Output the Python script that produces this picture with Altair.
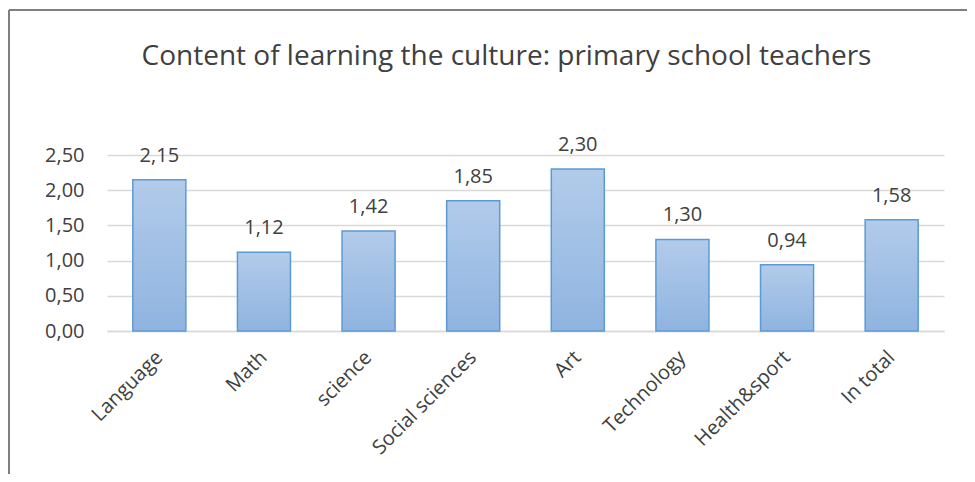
import altair as alt
import pandas as pd

categories = ["Language", "Math", "science", "Social sciences", "Art",
              "Technology", "Health&sport", "In total"]
values = [2.15, 1.12, 1.42, 1.85, 2.30, 1.30, 0.94, 1.58]
y_ticks = [0, 0.5, 1.0, 1.5, 2.0, 2.5]
title_text = "Content of learning the culture: primary school teachers"

df = pd.DataFrame({"category": categories, "value": values})

FONT = "Open Sans"
TXT = "#404040"
W, H = 837, 176
FS = 20

x_enc = alt.X("category:N", sort=categories, title=None,
              scale=alt.Scale(paddingInner=0.493, paddingOuter=0.2467),
              axis=alt.Axis(labelAngle=-45, labelAlign="right", labelBaseline="middle",
                            labelPadding=23, labelFontSize=FS, labelFont=FONT,
                            labelColor=TXT, ticks=False, domainColor="#d9d9d9",
                            domainWidth=1.5, grid=False, labelOverlap=False))
y_enc = alt.Y("value:Q", title=None,
              scale=alt.Scale(domain=[0, 2.5], nice=False),
              axis=alt.Axis(values=y_ticks, tickCount=6,
                            labelExpr="replace(format(datum.value, '.2f'), '.', ',')",
                            labelFontSize=FS, labelFont=FONT, labelColor=TXT,
                            labelPadding=23, ticks=False, domain=False,
                            labelOverlap=False, labelFlush=False,
                            gridColor="#d9d9d9", gridWidth=1.5))

gradient = alt.LinearGradient(
    gradient="linear",
    stops=[alt.GradientStop(color="#b2cbea", offset=0),
           alt.GradientStop(color="#8fb4e0", offset=1)],
    x1=0, x2=0, y1=0, y2=1)

base = alt.Chart(df)

bars = base.mark_bar(color=gradient, stroke="#5b9bd5", strokeWidth=1.5).encode(x=x_enc, y=y_enc)

labels = base.transform_calculate(
    label="replace(format(datum.value, '.2f'), '.', ',')"
).mark_text(font=FONT, fontSize=FS, color=TXT, baseline="alphabetic", dy=-18).encode(
    x=x_enc, y=y_enc, text="label:N")

frame_left = base.mark_rule(color="#7f7f7f", strokeWidth=1.5).encode(
    x=alt.value(-98), y=alt.value(-145), y2=alt.value(H + 200))
frame_top = base.mark_rule(color="#7f7f7f", strokeWidth=1.5).encode(
    x=alt.value(-98), x2=alt.value(W + 100), y=alt.value(-145))

chart = alt.layer(bars, labels, frame_left, frame_top).properties(
    width=W, height=H,
    title=alt.TitleParams(title_text, font=FONT, fontSize=28, fontWeight="normal",
                          color=TXT, anchor="middle", dx=-19, offset=-84,
                          baseline="alphabetic"),
    autosize=alt.AutoSizeParams(type="none"),
    padding={"left": 99, "top": 147, "right": 23, "bottom": 143},
).configure(background="white").configure_view(stroke=None)

chart.save("out.html", embed_options={"renderer": "svg", "actions": False})
